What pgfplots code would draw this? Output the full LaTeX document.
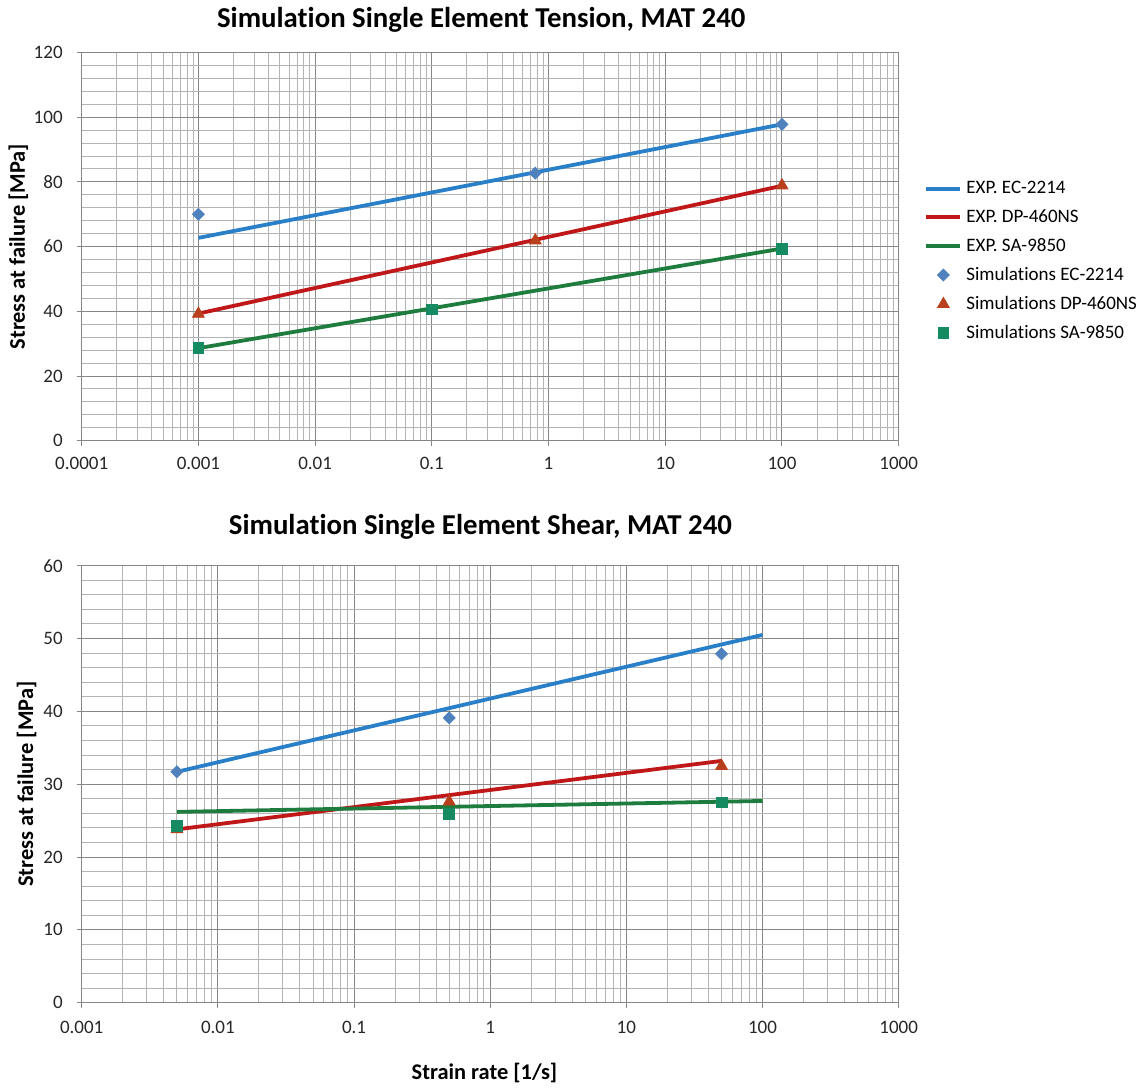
\documentclass[border=0pt]{standalone}
\usepackage{fontspec}
\setmainfont{Carlito}[Ligatures=NoCommon]
\usepackage{pgfplots}
\pgfplotsset{compat=1.18}

\definecolor{expblue}{HTML}{2A80C8}
\definecolor{expred}{HTML}{C01818}
\definecolor{expgreen}{HTML}{1E7D3E}
\definecolor{simblue}{HTML}{4F81BD}
\definecolor{simred}{HTML}{B8401C}
\definecolor{simgreen}{HTML}{168A60}
\definecolor{majorgray}{HTML}{868686}
\definecolor{minorgray}{HTML}{B4B4B4}
\definecolor{labelgray}{HTML}{262626}

\pgfplotsset{
  every axis/.append style={
    scale only axis, width=408.5pt,
    xmax=1000, ymin=0,
    axis line style={draw=majorgray, line width=0.5pt},
    grid=both,
    major grid style={draw=majorgray, line width=0.5pt},
    minor grid style={draw=minorgray, line width=0.5pt},
    minor y tick num=4,
    tick pos=left, tick align=outside,
    major tick length=2.5pt, minor tick length=0pt,
    tick style={draw=majorgray, line width=0.5pt},
    ticklabel style={font=\fontsize{9.5}{11}\selectfont, text=labelgray},
    yticklabel style={xshift=-3.5pt},
    /pgf/number format/assume math mode=true,
    every axis title shift=0pt,
    title style={font=\bfseries\fontsize{14.4}{16}\selectfont, anchor=center},
    label style={font=\bfseries\fontsize{11.2}{13}\selectfont},
    clip=false,
  },
}

\begin{document}
\begin{tikzpicture}
\useasboundingbox (-40.85pt,-323.15pt) rectangle (528.65pt,220.35pt);

% Tension
\begin{axis}[xmode=log,
  at={(0pt,0pt)}, anchor=south west,
  height=194.1pt,
  xmin=1e-4, ymax=120,
  xtick={1e-4,1e-3,1e-2,1e-1,1,10,100,1000},
  xticklabels={0.0001,0.001,0.01,0.1,1,10,100,1000},
  xticklabel style={yshift=-2pt},
  ytick={0,20,...,120},
  title={Simulation Single Element Tension, MAT 240},
  title style={at={(axis description cs:0.489,1.0837)}},
  ylabel={Stress at failure [MPa]},
  ylabel style={at={(axis description cs:-0.0774,0.5)}, anchor=center},
  legend style={at={(axis description cs:1.031,0.680)}, anchor=north west,
    draw=none, fill=none, inner sep=0pt, row sep=2.45pt,
    font=\fontsize{9.5}{11}\selectfont},
  legend cell align=left,
]
\addplot[no markers, line width=1.9pt, color=expblue] coordinates {(0.001,62.7) (100,97.8)};
\addlegendentry{EXP. EC-2214}
\addplot[no markers, line width=1.9pt, color=expred] coordinates {(0.001,39.3) (100,78.8)};
\addlegendentry{EXP. DP-460NS}
\addplot[no markers, line width=1.9pt, color=expgreen] coordinates {(0.001,28.6) (100,59.4)};
\addlegendentry{EXP. SA-9850}
\addplot[only marks, mark=square*, mark size=2.1pt, mark options={rotate=45}, color=simblue] coordinates {(0.001,70.0) (0.77,82.7) (100,97.8)};
\addlegendentry{Simulations EC-2214}
\addplot[only marks, mark=triangle*, mark size=3.4pt, color=simred] coordinates {(0.001,39.2) (0.77,61.9) (100,78.9)};
\addlegendentry{Simulations DP-460NS}
\addplot[only marks, mark=square*, mark size=2.7pt, color=simgreen] coordinates {(0.001,28.6) (0.1,40.6) (100,59.4)};
\addlegendentry{Simulations SA-9850}
\end{axis}

% Shear
\begin{axis}[xmode=log,
  at={(0pt,-281pt)}, anchor=south west,
  height=218.5pt,
  xmin=1e-3, ymax=60,
  xtick={1e-3,1e-2,1e-1,1,10,100,1000},
  xticklabels={0.001,0.01,0.1,1,10,100,1000},
  xticklabel style={yshift=-3pt},
  ytick={0,10,...,60},
  title={Simulation Single Element Shear, MAT 240},
  title style={at={(axis description cs:0.488,1.0886)}},
  ylabel={Stress at failure [MPa]},
  ylabel style={at={(axis description cs:-0.0673,0.5)}, anchor=center},
  xlabel={Strain rate [1/s]},
  xlabel style={at={(axis description cs:0.493,-0.161)}, anchor=center},
]
\addplot[no markers, line width=1.9pt, color=expblue] coordinates {(0.005,31.7) (100,50.5)};
\addplot[no markers, line width=1.9pt, color=expred] coordinates {(0.005,23.8) (50,33.2)};
\addplot[no markers, line width=1.9pt, color=expgreen] coordinates {(0.005,26.2) (100,27.7)};
\addplot[only marks, mark=square*, mark size=2.1pt, mark options={rotate=45}, color=simblue] coordinates {(0.005,31.7) (0.5,39.1) (50,47.9)};
\addplot[only marks, mark=triangle*, mark size=3.4pt, color=simred] coordinates {(0.005,23.8) (0.5,27.6) (50,32.5)};
\addplot[only marks, mark=square*, mark size=2.7pt, color=simgreen] coordinates {(0.005,24.3) (0.5,25.9) (50,27.5)};
\end{axis}
\end{tikzpicture}
\end{document}
